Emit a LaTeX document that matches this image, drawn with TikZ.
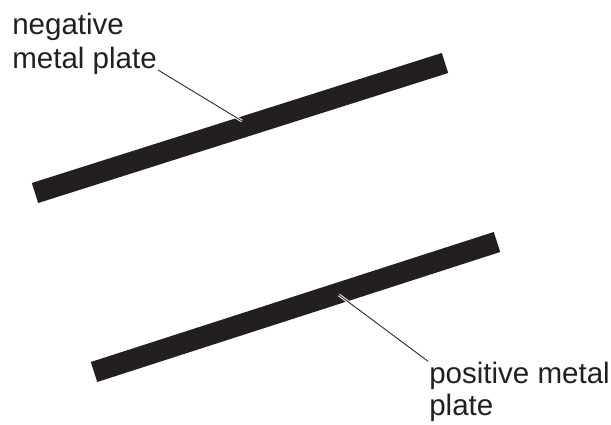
\documentclass[tikz,border=0pt]{standalone}
\usepackage{fontspec}
\setmainfont{Liberation Sans}
\usetikzlibrary{calc}
\definecolor{platecol}{RGB}{35,31,32}

\begin{document}
\begin{tikzpicture}[x=0.025cm, y=-0.025cm,
		plate/.style={line width=0.525cm, line cap=butt, color=platecol},
		lbl/.style={inner sep=0pt, align=left, text=platecol, font=\fontsize{21}{24.4}\selectfont},
		leader/.style={line width=0.6pt, color=platecol},
		halo/.style={line width=2pt, color=white}]
			%%%%% START %%%%%
			
			\useasboundingbox (0,0) rectangle (611,425);
			
			% the two plates
			\draw[plate] (35,193) -- (445,63);
			\draw[plate] (94,372) -- (497,242);
			
			\coordinate (negtip) at (242,121);
			\coordinate (postip) at (339,295);
			
			% labels
			\node[lbl, anchor=south west] (neglabel) at (12,75) {negative\\metal plate};
			\node[lbl, anchor=south west, font=\fontsize{21}{22.5}\selectfont] (poslabel) at (429,422) {positive metal\\plate};
			
			% leaders
			\draw[halo] ($(neglabel.south east)+(1,-5)$) -- (negtip);
			\draw[leader] ($(neglabel.south east)+(1,-5)$) -- (negtip);
			\draw[halo] (postip) -- ($(poslabel.north west)+(-1,-1)$);
			\draw[leader] (postip) -- ($(poslabel.north west)+(-1,-1)$);
			
			%%%%% END %%%%%
\end{tikzpicture}
\end{document}
